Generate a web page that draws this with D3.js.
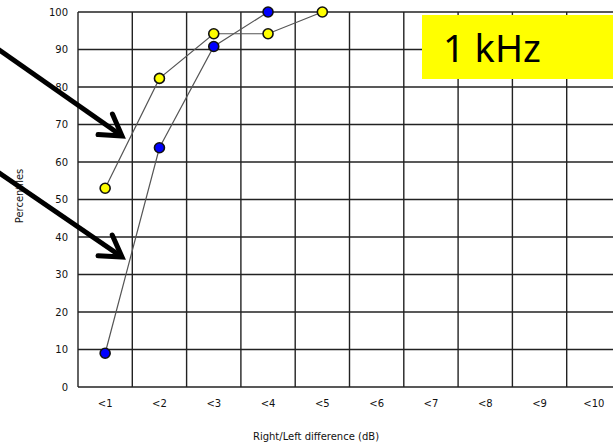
<!DOCTYPE html>
<html>
<head>
<meta charset="utf-8">
<script src="https://cdn.jsdelivr.net/npm/d3@7"></script>
<style>
  body { margin: 0; background: #fff; }
  svg { display: block; }
</style>
</head>
<body>
<div id="chart"></div>
<script>
// chart values
const categories = ["<1", "<2", "<3", "<4", "<5", "<6", "<7", "<8", "<9", "<10"];
const yTicks = [0, 10, 20, 30, 40, 50, 60, 70, 80, 90, 100];
const yellowSeries = [53, 82.3, 94.2, 94.2, 100];
const blueSeries = [9, 63.8, 90.8, 100];
const boxLabel = "1 kHz";
const xTitle = "Right/Left difference (dB)";
const yTitle = "Percentiles";

const W = 613, H = 445;
const plot = { left: 78, top: 12, right: 621, bottom: 387 };

const svg = d3.select("#chart").append("svg")
  .attr("width", W)
  .attr("height", H);

const x = d3.scaleBand().domain(categories).range([plot.left, plot.right]).padding(0);
const y = d3.scaleLinear().domain([0, 100]).range([plot.bottom, plot.top]);

// grid
const grid = svg.append("g").attr("stroke", "#222").attr("stroke-width", 1.4);
grid.selectAll(".hgrid").data(yTicks).enter().append("line")
  .attr("x1", plot.left).attr("x2", plot.right)
  .attr("y1", d => y(d)).attr("y2", d => y(d));
const vEdges = categories.map(c => x(c)).concat([x(categories[categories.length - 1]) + x.bandwidth()]);
grid.selectAll(".vgrid").data(vEdges).enter().append("line")
  .attr("x1", d => d).attr("x2", d => d)
  .attr("y1", plot.top).attr("y2", plot.bottom);

// axes text
const yAxis = svg.append("g")
  .attr("transform", `translate(${plot.left},0)`)
  .call(d3.axisLeft(y).tickValues(yTicks).tickSize(0).tickPadding(10));
yAxis.select(".domain").remove();
yAxis.selectAll("text").attr("font-family", "DejaVu Sans, Verdana, sans-serif").attr("font-size", 10).attr("fill", "#111");

const xAxis = svg.append("g")
  .attr("transform", `translate(0,${plot.bottom})`)
  .call(d3.axisBottom(x).tickSize(0).tickPadding(13));
xAxis.select(".domain").remove();
xAxis.selectAll("text").attr("font-family", "DejaVu Sans, Verdana, sans-serif").attr("font-size", 10).attr("fill", "#111");

svg.append("text")
  .attr("x", 316).attr("y", 440)
  .attr("text-anchor", "middle")
  .attr("font-family", "DejaVu Sans, Verdana, sans-serif")
  .attr("font-size", 10)
  .attr("fill", "#111")
  .text(xTitle);

svg.append("text")
  .attr("transform", "translate(23,196) rotate(-90)")
  .attr("text-anchor", "middle")
  .attr("font-family", "DejaVu Sans, Verdana, sans-serif")
  .attr("font-size", 10)
  .attr("fill", "#111")
  .text(yTitle);

// series
function drawSeries(values, color) {
  const pts = values.map((v, i) => [x(categories[i]) + x.bandwidth() / 2, y(v)]);
  svg.append("path")
    .attr("d", d3.line()(pts))
    .attr("fill", "none")
    .attr("stroke", "#555")
    .attr("stroke-width", 1.2);
  return pts;
}
const yPts = drawSeries(yellowSeries, "#ffff00");
const bPts = drawSeries(blueSeries, "#0000ff");
function drawDots(pts, color) {
  svg.append("g").selectAll("circle").data(pts).enter().append("circle")
    .attr("cx", d => d[0]).attr("cy", d => d[1]).attr("r", 5)
    .attr("fill", color).attr("stroke", "#111").attr("stroke-width", 1.6);
}
drawDots(yPts, "#ffff00");
drawDots(bPts, "#0000ff");

// label box
svg.append("rect")
  .attr("x", 422).attr("y", 15).attr("width", 200).attr("height", 64)
  .attr("fill", "#ffff00");
svg.append("text")
  .attr("x", 443).attr("y", 62)
  .attr("font-family", "'Comic Sans MS', 'Noto Sans', sans-serif")
  .attr("font-size", 38)
  .attr("fill", "#000")
  .text(boxLabel);

// arrows
const arrows = [
  { from: [-5, 47], to: [122, 136] },
  { from: [-5, 170], to: [122, 257] }
];
arrows.forEach(a => {
  const ang = Math.atan2(a.to[1] - a.from[1], a.to[0] - a.from[0]);
  const len = 24, spread = 0.55;
  const arm = s => [a.to[0] - len * Math.cos(ang + s), a.to[1] - len * Math.sin(ang + s)];
  svg.append("line")
    .attr("x1", a.from[0]).attr("y1", a.from[1])
    .attr("x2", a.to[0] - 3 * Math.cos(ang)).attr("y2", a.to[1] - 3 * Math.sin(ang))
    .attr("stroke", "#000").attr("stroke-width", 5);
  svg.append("path")
    .attr("d", d3.line()([arm(spread), a.to, arm(-spread)]))
    .attr("fill", "none").attr("stroke", "#000").attr("stroke-width", 5)
    .attr("stroke-linejoin", "miter").attr("stroke-linecap", "round");
});
</script>
</body>
</html>
